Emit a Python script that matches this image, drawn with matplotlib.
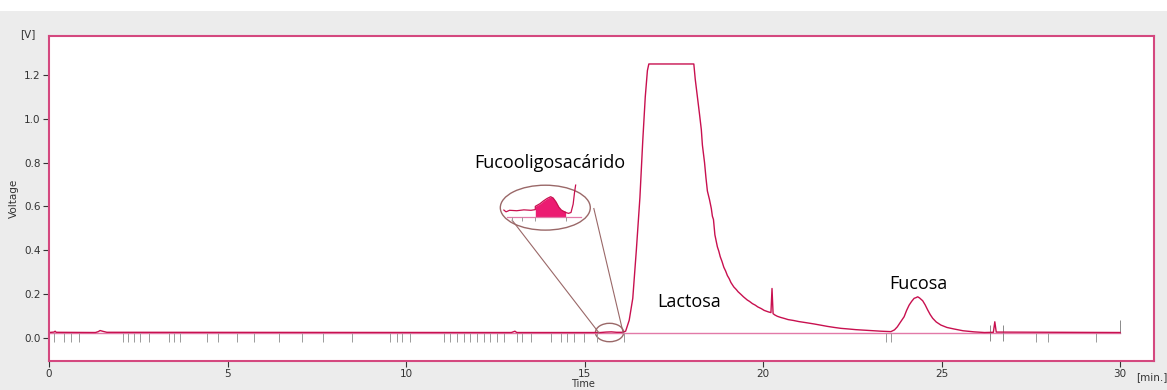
import matplotlib.pyplot as plt
from matplotlib.patches import Ellipse, Rectangle

# chromatogram trace (min, V)
time = [0.0, 0.14, 0.17, 0.2, 1.30, 1.38, 1.43, 1.52, 1.62, 12.95, 13.05, 13.1,
        15.45, 15.6, 15.75, 15.9, 16.05, 16.15, 16.25, 16.35, 16.45, 16.55,
        16.63, 16.70, 16.76, 16.80, 18.06, 18.10, 18.16, 18.22, 18.27, 18.30,
        18.33, 18.36, 18.40, 18.44, 18.50, 18.55, 18.58, 18.61, 18.65, 18.72,
        18.76, 18.80, 18.85, 18.90, 18.95, 19.00, 19.05, 19.10, 19.18, 19.25,
        19.30, 19.38, 19.45, 19.56, 19.62, 19.70, 19.78, 19.85, 19.95, 20.03,
        20.15, 20.22, 20.25, 20.28, 20.33, 20.40, 20.49, 20.6, 20.7, 20.85,
        21.0, 21.2, 21.43, 21.6, 21.8, 22.0, 22.18, 22.4, 22.6, 22.8, 23.0,
        23.3, 23.58, 23.68, 23.76, 23.85, 23.95, 24.02, 24.09, 24.16, 24.23,
        24.28, 24.33, 24.38, 24.47, 24.54, 24.61, 24.68, 24.75, 24.85, 24.98,
        25.15, 25.35, 25.6, 25.91, 26.2, 26.45, 26.49, 26.53, 30.0]
voltage = [0.024, 0.026, 0.030, 0.025, 0.024, 0.028, 0.033, 0.029, 0.025, 0.024, 0.030, 0.024,
           0.024, 0.026, 0.027, 0.025, 0.025, 0.030, 0.080, 0.180, 0.400, 0.640,
           0.900, 1.100, 1.220, 1.250, 1.250, 1.180, 1.100, 1.020, 0.950, 0.880,
           0.840, 0.800, 0.730, 0.670, 0.630, 0.590, 0.555, 0.540, 0.470, 0.415,
           0.395, 0.370, 0.348, 0.322, 0.305, 0.284, 0.270, 0.252, 0.232, 0.220,
           0.210, 0.198, 0.187, 0.172, 0.166, 0.156, 0.149, 0.141, 0.133, 0.125,
           0.118, 0.115, 0.225, 0.110, 0.104, 0.098, 0.093, 0.088, 0.083, 0.079,
           0.074, 0.069, 0.063, 0.058, 0.052, 0.047, 0.043, 0.040, 0.037, 0.035, 0.033,
           0.030, 0.028, 0.036, 0.050, 0.072, 0.096, 0.125, 0.149, 0.166, 0.180,
           0.183, 0.187, 0.182, 0.169, 0.150, 0.127, 0.106, 0.089, 0.072, 0.058,
           0.047, 0.040, 0.032, 0.027, 0.024, 0.025, 0.073, 0.026, 0.024]

baseline = 0.024

# integration marks below the baseline (min)
marks_down = [0.14, 0.41, 0.62, 0.83, 2.06, 2.22, 2.39, 2.55, 2.81, 3.35, 3.51,
              3.67, 4.42, 4.74, 5.27, 5.75, 6.45, 7.09, 7.68, 8.50, 9.56, 9.75,
              9.90, 10.10, 11.05, 11.24, 11.43, 11.61, 11.80, 11.99, 12.17, 12.36,
              12.55, 12.74, 13.11, 13.25, 13.49, 14.05, 14.33, 14.51, 14.70, 14.98,
              15.36, 16.10, 23.44, 23.58, 27.64, 27.97, 29.33]
marks_both = [26.36, 26.71]
marks_up = [30.0]

# zoomed inset of the fucooligosaccharide peak
inset_t = [12.74, 12.80, 12.90, 13.10, 13.30, 13.50, 13.62, 13.62, 13.75, 13.85,
           13.95, 14.05, 14.12, 14.20, 14.28, 14.35, 14.47, 14.55, 14.62, 14.68,
           14.72, 14.75]
inset_v = [0.583, 0.575, 0.582, 0.580, 0.584, 0.582, 0.585, 0.600, 0.612, 0.625,
           0.636, 0.644, 0.638, 0.620, 0.596, 0.583, 0.572, 0.568, 0.572, 0.610,
           0.665, 0.697]
peak_t = [13.62, 13.75, 13.85, 13.95, 14.00, 14.05, 14.12, 14.20, 14.28, 14.35, 14.47]
peak_v = [0.600, 0.612, 0.625, 0.636, 0.640, 0.644, 0.638, 0.620, 0.596, 0.583, 0.578]
inset_base = 0.55
inset_marks = [12.97, 13.25, 13.62, 14.47]

pink = '#d4487f'
trace_col = '#c8104f'
ell_col = '#9a6868'

fig = plt.figure(figsize=(11.67, 3.9), dpi=100, facecolor='#ececec')
fig.patches.append(Rectangle((0, 0.972), 1, 0.03, transform=fig.transFigure,
                             facecolor='white', edgecolor='none', zorder=-1))
ax = fig.add_axes([0.042, 0.0744, 0.9469, 0.834])
ax.set_xlim(0, 30.95)
ax.set_ylim(-0.106, 1.379)

ax.plot([0, 30], [baseline, baseline], color='#e27aa8', lw=1.0)
ax.vlines(marks_down, -0.018, baseline, color='#9a9a9a', lw=0.7)
ax.vlines(marks_both, -0.014, 0.058, color='#8a8a8a', lw=0.7)
ax.vlines(marks_up, baseline, 0.08, color='#8a8a8a', lw=0.7)
ax.plot(time, voltage, color=trace_col, lw=1.0)

# inset
ax.add_patch(Ellipse((13.9, 0.594), 2.52, 0.205, fill=False, edgecolor=ell_col, lw=1.0))
ax.add_patch(Ellipse((15.7, 0.024), 0.79, 0.084, fill=False, edgecolor=ell_col, lw=1.0))
ax.plot([12.97, 15.40], [0.537, 0.023], color=ell_col, lw=0.8)
ax.plot([15.26, 16.08], [0.590, 0.023], color=ell_col, lw=0.8)
ax.plot([12.83, 14.89], [inset_base, inset_base], color='#e27aa8', lw=0.9)
ax.vlines(inset_marks, 0.534, inset_base, color='#9a9a9a', lw=0.7)
ax.fill_between(peak_t, inset_base, peak_v, color='#ec1c72', lw=0)
ax.plot(inset_t, inset_v, color=trace_col, lw=0.9)

# labels
ax.text(14.04, 0.80, 'Fucooligosacárido', fontsize=13, family='Open Sans', ha='center', va='center')
ax.text(17.92, 0.163, 'Lactosa', fontsize=13, family='Open Sans', ha='center', va='center')
ax.text(24.34, 0.245, 'Fucosa', fontsize=13, family='Open Sans', ha='center', va='center')

for s in ax.spines.values():
    s.set_color(pink)
    s.set_linewidth(1.5)
ax.set_xticks([0, 5, 10, 15, 20, 25, 30])
ax.set_yticks([0.0, 0.2, 0.4, 0.6, 0.8, 1.0, 1.2])
ax.set_yticklabels(['0.0', '0.2', '0.4', '0.6', '0.8', '1.0', '1.2'])
ax.tick_params(labelsize=7.5, colors='#333333', length=4, width=0.8, pad=2)
ax.set_ylabel('Voltage', fontsize=7.5, color='#333333', labelpad=4)
ax.text(-0.012, 1.005, '[V]', transform=ax.transAxes, fontsize=7.5, color='#333333',
        ha='right', va='center')
fig.text(583 / 1167, 6 / 390, 'Time', fontsize=7, color='#333333', ha='center', va='center')
fig.text(1152 / 1167, 1 - 377.5 / 390, '[min.]', fontsize=7.5, color='#333333',
         ha='center', va='center')

fig.savefig('out.png', dpi=100, facecolor=fig.get_facecolor())
